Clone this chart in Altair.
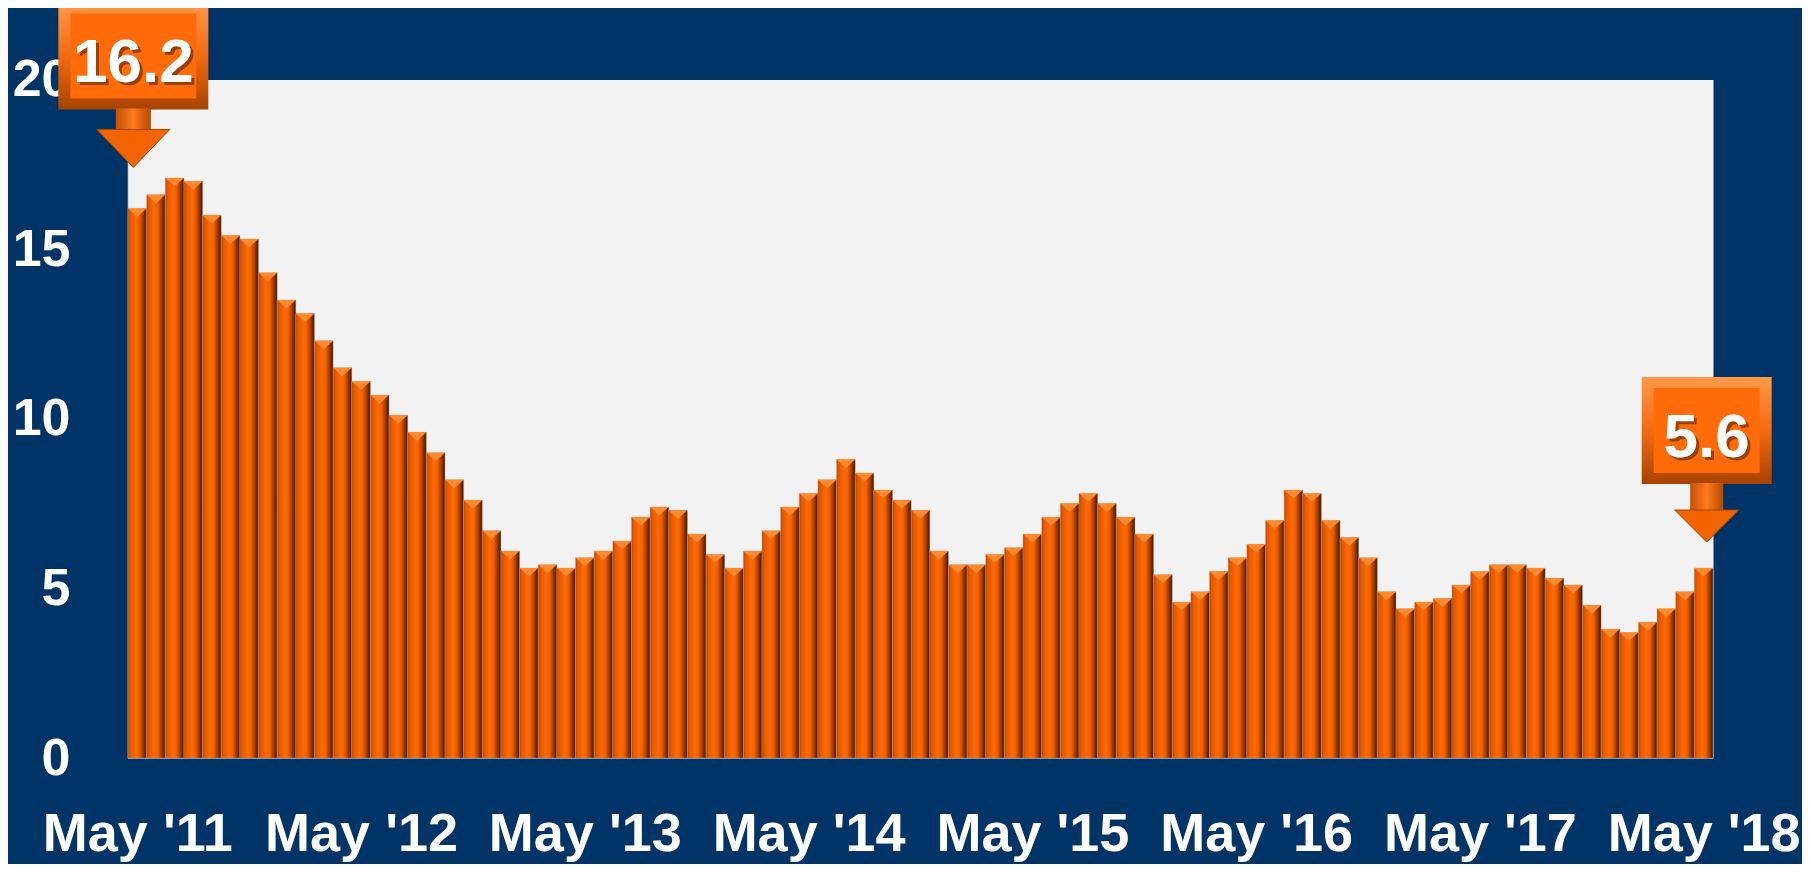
import json
import altair as alt
import pandas as pd

# ---------------- data ----------------
month_names = ["May", "Jun", "Jul", "Aug", "Sep", "Oct", "Nov", "Dec", "Jan", "Feb", "Mar", "Apr"]
values = [16.2, 16.6, 17.1, 17.0, 16.0, 15.4, 15.3, 14.3, 13.5, 13.1,
          12.3, 11.5, 11.1, 10.7, 10.1, 9.6, 9.0, 8.2, 7.6, 6.7,
          6.1, 5.6, 5.7, 5.6, 5.9, 6.1, 6.4, 7.1, 7.4, 7.3,
          6.6, 6.0, 5.6, 6.1, 6.7, 7.4, 7.8, 8.2, 8.8, 8.4,
          7.9, 7.6, 7.3, 6.1, 5.7, 5.7, 6.0, 6.2, 6.6, 7.1,
          7.5, 7.8, 7.5, 7.1, 6.6, 5.4, 4.6, 4.9, 5.5, 5.9,
          6.3, 7.0, 7.9, 7.8, 7.0, 6.5, 5.9, 4.9, 4.4, 4.6,
          4.7, 5.1, 5.5, 5.7, 5.7, 5.6, 5.3, 5.1, 4.5, 3.8,
          3.7, 4.0, 4.4, 4.9, 5.6]
tick_labels = ["May '11", "May '12", "May '13", "May '14", "May '15", "May '16", "May '17", "May '18"]
y_ticks = [0, 5, 10, 15, 20]
callout_idx = [0, 84]
callout_text = ["16.2", "5.6"]
unit_title = ["in Thousands"]

periods = [f"{month_names[i % 12]} '{11 + (i + 4) // 12:02d}" for i in range(len(values))]
df = pd.DataFrame({"idx": list(range(len(values))), "period": periods, "v": values})

# ---------------- style ----------------
NAVY = "#003366"
PLOT_BG = "#F2F2F2"
FONT = "Liberation Sans Narrow, Arial Narrow, Liberation Sans, Arial, sans-serif"
W, H = 1585, 678.5

x_scale = alt.Scale(domain=[-0.5, len(values) - 0.5], nice=False, zero=False)
y_scale = alt.Scale(domain=[0, 20], nice=False, zero=True)

x_axis = alt.Axis(values=[i * 12 for i in range(len(tick_labels))],
                  labelExpr=f"{json.dumps(tick_labels)}[round(datum.value / 12)]",
                  domain=False, ticks=False, tickSize=0, grid=False,
                  labelColor="white", labelFont=FONT, labelFontSize=54, labelFontWeight="bold",
                  labelBaseline="alphabetic", labelPadding=92, labelOverlap=False, labelFlush=False,
                  labelLimit=0, title=None)
y_axis = alt.Axis(values=y_ticks, domain=True, domainColor="#D9D9D9", domainWidth=1.5,
                  ticks=False, tickSize=0, grid=False,
                  labelColor="white", labelFont=FONT, labelFontSize=52, labelFontWeight="bold",
                  labelPadding=58, labelOverlap=False, labelFlush=False, labelLimit=0, title=None)

bar_grad = alt.LinearGradient(
    gradient="linear", x1=0, x2=1, y1=0, y2=0,
    stops=[alt.GradientStop(color="#B84600", offset=0.0),
           alt.GradientStop(color="#E35800", offset=0.12),
           alt.GradientStop(color="#FF6A05", offset=0.42),
           alt.GradientStop(color="#F26000", offset=0.6),
           alt.GradientStop(color="#9A3800", offset=0.82),
           alt.GradientStop(color="#3E1500", offset=1.0)])

base = alt.Chart(df)

bars = base.transform_calculate(
    x0="datum.idx - 0.5", x1="datum.idx + 0.5"
).mark_rect(color=bar_grad, stroke="#C9A48A", strokeWidth=0.4).encode(
    x=alt.X("x0:Q", scale=x_scale, axis=x_axis),
    x2="x1:Q",
    y=alt.Y("v:Q", scale=y_scale, axis=y_axis),
    y2=alt.datum(0),
    tooltip=[alt.Tooltip("period:N"), alt.Tooltip("v:Q")],
)

bevel = base.mark_point(shape="M-1,0 L1,0 L0,0.9 Z", size=(W / len(values)) ** 2,
                        filled=True, fill="#FF8A2E", opacity=1, strokeWidth=0).encode(
    x=alt.X("idx:Q", scale=x_scale, axis=x_axis),
    y=alt.Y("v:Q", scale=y_scale, axis=y_axis),
)

# ---------------- callouts ----------------
box_grad = alt.LinearGradient(
    gradient="linear", x1=0, x2=0, y1=0, y2=1,
    stops=[alt.GradientStop(color="#FF9A4A", offset=0.0),
           alt.GradientStop(color="#F26A10", offset=0.5),
           alt.GradientStop(color="#A84300", offset=1.0)])
shaft_grad = alt.LinearGradient(
    gradient="linear", x1=0, x2=1, y1=0, y2=0,
    stops=[alt.GradientStop(color="#C65000", offset=0.0),
           alt.GradientStop(color="#FF7A1E", offset=0.5),
           alt.GradientStop(color="#B84800", offset=1.0)])

# pixel geometry of each callout, relative to the top of its bar:
# (centre dx, arrow tip dy, box width, shaft width, head width, head height)
callout_geom = [(-4, -41, 150, 35, 73, 38), (3, -26, 130, 33, 64, 32)]

layers = [bars, bevel]
for idx, txt, (dx, tip, bw, sw, hw, hh) in zip(callout_idx, callout_text, callout_geom):
    cdf = pd.DataFrame({"idx": [idx], "v": [values[idx]], "t": [txt]})
    cb = alt.Chart(cdf)
    enc = dict(x=alt.X("idx:Q", scale=x_scale, axis=x_axis),
               y=alt.Y("v:Q", scale=y_scale, axis=y_axis))
    outer = cb.mark_rect(color=box_grad, xOffset=dx - bw / 2, x2Offset=dx + bw / 2,
                         yOffset=tip - 165, y2Offset=tip - 58).encode(
        x2="idx:Q", y2="v:Q", **enc)
    inner = cb.mark_rect(color="#FF6B08", xOffset=dx - bw / 2 + 12, x2Offset=dx + bw / 2 - 12,
                         yOffset=tip - 154, y2Offset=tip - 69).encode(
        x2="idx:Q", y2="v:Q", **enc)
    shaft = cb.mark_rect(color=shaft_grad, xOffset=dx - sw / 2, x2Offset=dx + sw / 2,
                         yOffset=tip - 59, y2Offset=tip - hh + 1).encode(
        x2="idx:Q", y2="v:Q", **enc)
    head = cb.mark_point(shape=f"M-1,{-2 * hh / hw:.4f} L1,{-2 * hh / hw:.4f} L0,0 Z",
                         size=hw ** 2, filled=True,
                         fill="#F26400", opacity=1, stroke="#A84300", strokeWidth=1,
                         xOffset=dx, yOffset=tip).encode(**enc)
    shadow = cb.mark_text(font=FONT, fontSize=62, fontWeight="bold", color="#4A1C00",
                          opacity=0.55, align="center", baseline="alphabetic",
                          dx=dx + 3, dy=tip - 82).encode(text="t:N", **enc)
    label = cb.mark_text(font=FONT, fontSize=62, fontWeight="bold", color="white",
                         align="center", baseline="alphabetic",
                         dx=dx, dy=tip - 85).encode(text="t:N", **enc)
    layers += [outer, inner, shaft, head, shadow, label]

title_txt = alt.Chart(pd.DataFrame({"t": unit_title})).mark_text(
    font=FONT, fontSize=66, fontWeight="bold", color="white", align="left", baseline="alphabetic"
).encode(x=alt.value(-114), y=alt.value(-74), text="t:N")
layers.append(title_txt)

chart = alt.layer(*layers).properties(
    width=W, height=H,
    background=NAVY,
    padding={"left": 120, "top": 71.5, "right": 89, "bottom": 106},
    autosize=alt.AutoSizeParams(type="none"),
).configure_view(fill=PLOT_BG, stroke="transparent")

chart.save("out.html", embed_options={"renderer": "svg", "actions": False})
